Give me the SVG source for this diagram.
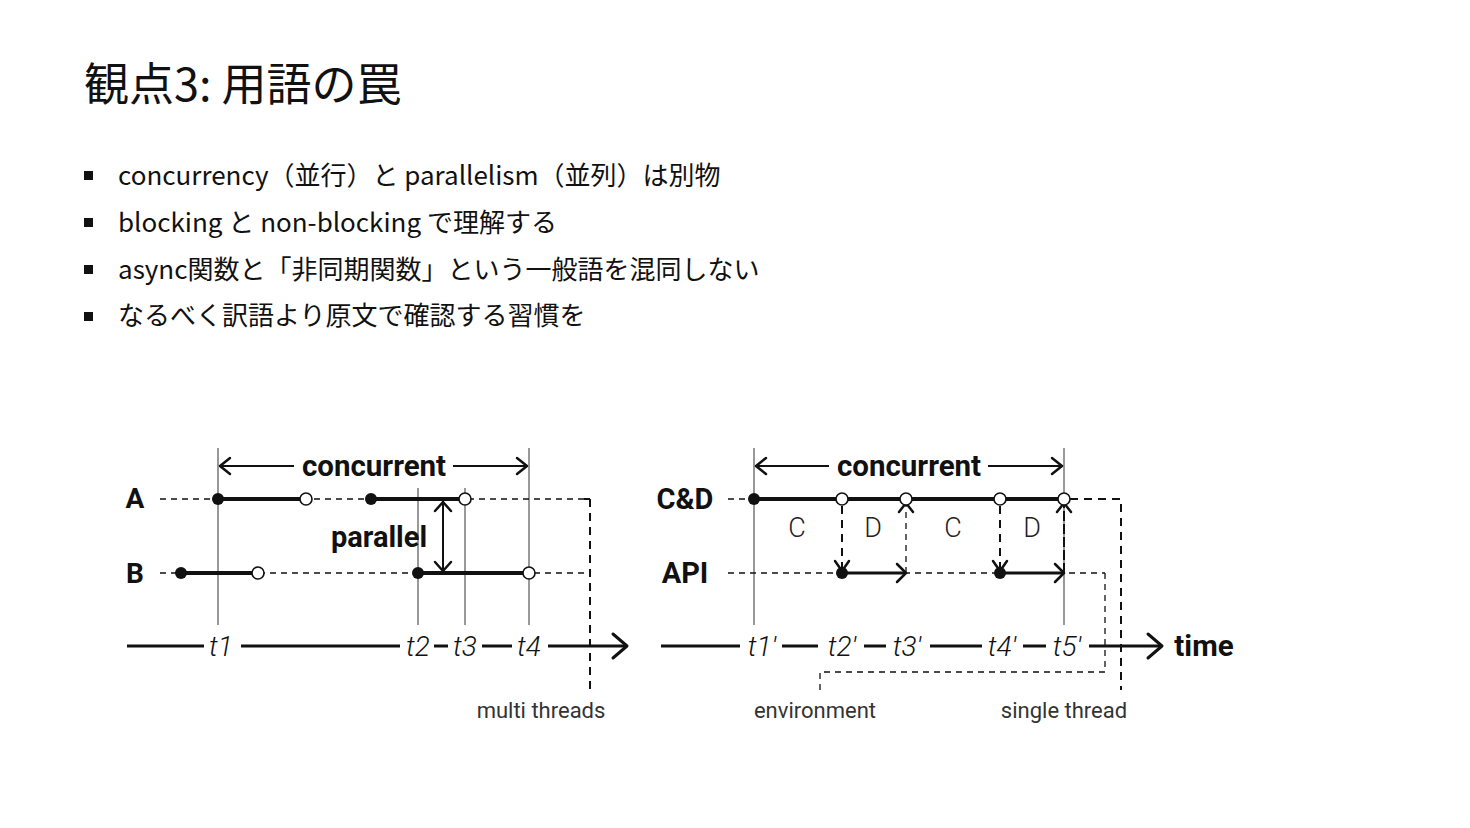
<svg xmlns="http://www.w3.org/2000/svg" width="1470" height="828" viewBox="0 0 1470 828">
<defs>
<style>
.jp{font-family:"Noto Sans CJK JP","Noto Sans",sans-serif;fill:#111}
.title{font-size:45px}
.bul{font-size:26px}
.rb{font-family:Roboto,"Liberation Sans",sans-serif;font-weight:bold;fill:#111}
.rl{font-family:Roboto,"Liberation Sans",sans-serif;font-weight:300;fill:#222}
.ti{font-family:Roboto,"Liberation Sans",sans-serif;font-style:italic;font-weight:300;font-size:28px;fill:#111}
.small{font-family:Roboto,"Liberation Sans",sans-serif;font-size:22px;fill:#333}
.grid{stroke:#999;stroke-width:2;fill:none}
.thin{stroke:#111;stroke-width:1.3;stroke-dasharray:6 5;fill:none}
.box{stroke:#111;stroke-width:2;stroke-dasharray:8 6;fill:none}
.thick{stroke:#111;stroke-width:4;fill:none}
.axis{stroke:#111;stroke-width:3;fill:none}
.arr{stroke:#111;stroke-width:2;fill:none}
.chev{stroke:#111;stroke-width:2.5;fill:none;stroke-linecap:round;stroke-linejoin:round}
.fd{fill:#111}
.od{fill:#fff;stroke:#111;stroke-width:1.6}
</style>
</defs>
<rect width="1470" height="828" fill="#fff"/>

<g id="title">
<text class="jp title" x="84" y="101">観点3: 用語の罠</text>
</g>
<g id="bullets">
<rect x="84" y="171" width="9" height="9" fill="#111"/>
<rect x="84" y="218" width="9" height="9" fill="#111"/>
<rect x="84" y="265" width="9" height="9" fill="#111"/>
<rect x="84" y="312" width="9" height="9" fill="#111"/>
<text class="jp bul" x="118" y="185">concurrency（並行）と parallelism（並列）は別物</text>
<text class="jp bul" x="118" y="232">blocking と non-blocking で理解する</text>
<text class="jp bul" x="118" y="279">async関数と「非同期関数」という一般語を混同しない</text>
<text class="jp bul" x="118" y="325">なるべく訳語より原文で確認する習慣を</text>
</g>

<!-- LEFT DIAGRAM -->
<g id="left-grid">
<line class="grid" x1="218" y1="448" x2="218" y2="625"/>
<line class="grid" x1="418" y1="488" x2="418" y2="625"/>
<line class="grid" x1="465" y1="488" x2="465" y2="625"/>
<line class="grid" x1="529" y1="448" x2="529" y2="625"/>
</g>
<g id="left-concurrent">
<line class="arr" x1="219" y1="466" x2="294" y2="466"/>
<line class="arr" x1="453" y1="466" x2="528" y2="466"/>
<polyline class="chev" points="230,458 220,466 230,474"/>
<polyline class="chev" points="517,458 527,466 517,474"/>
<text class="rb" x="374" y="476" font-size="29.5" text-anchor="middle">concurrent</text>
</g>
<g id="row-A">
<text class="rb" x="135" y="508" font-size="28" text-anchor="middle">A</text>
<line class="thin" x1="160" y1="499" x2="590" y2="499"/>
<line class="thick" x1="218" y1="499" x2="306" y2="499"/>
<line class="thick" x1="371" y1="499" x2="465" y2="499"/>
<circle class="fd" cx="218" cy="499" r="6"/>
<circle class="od" cx="306" cy="499" r="6"/>
<circle class="fd" cx="371" cy="499" r="6"/>
<circle class="od" cx="465" cy="499" r="6"/>
</g>
<g id="row-B">
<text class="rb" x="135" y="583" font-size="28" text-anchor="middle">B</text>
<line class="thin" x1="160" y1="573" x2="590" y2="573"/>
<line class="thick" x1="181" y1="573" x2="258" y2="573"/>
<line class="thick" x1="418" y1="573" x2="529" y2="573"/>
<circle class="fd" cx="181" cy="573" r="6"/>
<circle class="od" cx="258" cy="573" r="6"/>
<circle class="fd" cx="418" cy="573" r="6"/>
<circle class="od" cx="529" cy="573" r="6"/>
</g>
<g id="parallel">
<line class="arr" x1="443" y1="501" x2="443" y2="571"/>
<polyline class="chev" points="435,511 443,502 451,511"/>
<polyline class="chev" points="435,562 443,571 451,562"/>
<text class="rb" x="379" y="547" font-size="29" text-anchor="middle">parallel</text>
</g>
<g id="multi-threads">
<line class="box" x1="584" y1="499" x2="590" y2="499"/>
<line class="box" x1="590" y1="499" x2="590" y2="690"/>
<text class="small" x="541" y="718" text-anchor="middle">multi threads</text>
</g>
<g id="left-axis">
<line class="axis" x1="127" y1="646" x2="204" y2="646"/>
<line class="axis" x1="241" y1="646" x2="400" y2="646"/>
<line class="axis" x1="434" y1="646" x2="448" y2="646"/>
<line class="axis" x1="482" y1="646" x2="512" y2="646"/>
<line class="axis" x1="548" y1="646" x2="626" y2="646"/>
<polyline class="chev" points="613,634 627,646 613,658" style="stroke-width:3"/>
<text class="ti" x="221" y="656" text-anchor="middle">t1</text>
<text class="ti" x="418" y="656" text-anchor="middle">t2</text>
<text class="ti" x="465" y="656" text-anchor="middle">t3</text>
<text class="ti" x="529" y="656" text-anchor="middle">t4</text>
</g>

<!-- RIGHT DIAGRAM -->
<g id="right-grid">
<line class="grid" x1="754" y1="448" x2="754" y2="625"/>
<line class="grid" x1="1064" y1="448" x2="1064" y2="625"/>
</g>
<g id="right-concurrent">
<line class="arr" x1="755" y1="466" x2="829" y2="466"/>
<line class="arr" x1="988" y1="466" x2="1063" y2="466"/>
<polyline class="chev" points="766,458 756,466 766,474"/>
<polyline class="chev" points="1052,458 1062,466 1052,474"/>
<text class="rb" x="909" y="476" font-size="29.5" text-anchor="middle">concurrent</text>
</g>
<g id="row-CD">
<text class="rb" x="685" y="509" font-size="29" text-anchor="middle">C&amp;D</text>
<line class="thin" x1="728" y1="499" x2="754" y2="499"/>
<line class="thick" x1="754" y1="499" x2="1064" y2="499"/>
<circle class="fd" cx="754" cy="499" r="6"/>
<text class="rl" x="797" y="537" font-size="27" text-anchor="middle">C</text>
<text class="rl" x="873" y="537" font-size="27" text-anchor="middle">D</text>
<text class="rl" x="953" y="537" font-size="27" text-anchor="middle">C</text>
<text class="rl" x="1032" y="537" font-size="27" text-anchor="middle">D</text>
</g>
<g id="row-API">
<text class="rb" x="685" y="583" font-size="29" text-anchor="middle">API</text>
<line class="thin" x1="728" y1="573" x2="1105" y2="573"/>
</g>
<g id="connectors">
<line class="box" x1="842" y1="506" x2="842" y2="570"/>
<polyline class="chev" points="835,561 842,571 849,561"/>
<line class="axis" x1="842" y1="573" x2="905" y2="573"/>
<polyline class="chev" points="897,564 906,573 897,582"/>
<line class="thin" x1="906" y1="573" x2="906" y2="505"/>
<polyline class="chev" points="899,512 906,503 913,512"/>
<line class="box" x1="1000" y1="506" x2="1000" y2="570"/>
<polyline class="chev" points="993,561 1000,571 1007,561"/>
<line class="axis" x1="1000" y1="573" x2="1063" y2="573"/>
<polyline class="chev" points="1055,564 1064,573 1055,582"/>
<line class="box" x1="1064" y1="573" x2="1064" y2="505" style="stroke-dasharray:10 3"/>
<polyline class="chev" points="1057,512 1064,503 1071,512"/>
<circle class="fd" cx="842" cy="573" r="6"/>
<circle class="fd" cx="1000" cy="573" r="6"/>
<circle class="od" cx="842" cy="499" r="6"/>
<circle class="od" cx="906" cy="499" r="6"/>
<circle class="od" cx="1000" cy="499" r="6"/>
<circle class="od" cx="1064" cy="499" r="6"/>
</g>
<g id="single-thread">
<polyline class="box" points="1070,499 1121,499 1121,690"/>
<text class="small" x="1064" y="718" text-anchor="middle">single thread</text>
</g>
<g id="environment">
<polyline class="thin" points="1105,573 1105,672 820,672 820,690"/>
<text class="small" x="815" y="718" text-anchor="middle">environment</text>
</g>
<g id="right-axis">
<line class="axis" x1="661" y1="646" x2="740" y2="646"/>
<line class="axis" x1="782" y1="646" x2="818" y2="646"/>
<line class="axis" x1="864" y1="646" x2="886" y2="646"/>
<line class="axis" x1="930" y1="646" x2="982" y2="646"/>
<line class="axis" x1="1023" y1="646" x2="1046" y2="646"/>
<line class="axis" x1="1089" y1="646" x2="1161" y2="646"/>
<polyline class="chev" points="1148,634 1162,646 1148,658" style="stroke-width:3"/>
<text class="ti" x="762" y="656" text-anchor="middle">t1′</text>
<text class="ti" x="842" y="656" text-anchor="middle">t2′</text>
<text class="ti" x="907" y="656" text-anchor="middle">t3′</text>
<text class="ti" x="1002" y="656" text-anchor="middle">t4′</text>
<text class="ti" x="1067" y="656" text-anchor="middle">t5′</text>
<text class="rb" x="1204" y="656" font-size="29.5" text-anchor="middle">time</text>
</g>
</svg>
